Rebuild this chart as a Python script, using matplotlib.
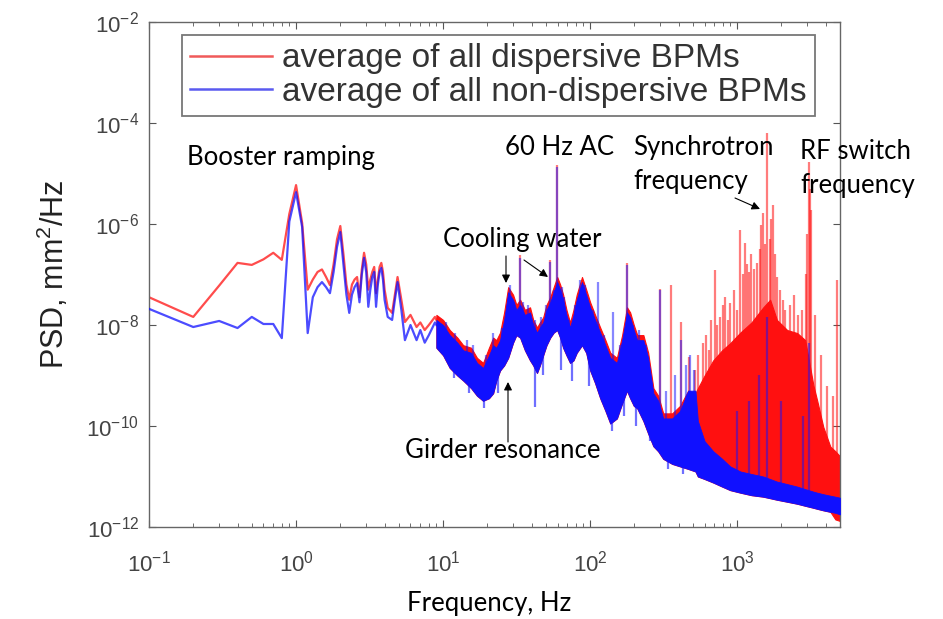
import matplotlib
matplotlib.use("Agg")
import matplotlib.pyplot as plt
import numpy as np

plt.rcParams["font.family"] = ["Liberation Sans", "DejaVu Sans"]
plt.rcParams["mathtext.fontset"] = "custom"
plt.rcParams["mathtext.rm"] = "Liberation Sans"
plt.rcParams["mathtext.it"] = "Liberation Sans:italic"
plt.rcParams["mathtext.bf"] = "Liberation Sans:bold"
plt.rcParams["axes.unicode_minus"] = False

# ---- data (PSD given as log10 values) ----
# low frequency part, FFT bins
lf_freq = [0.1, 0.2, 0.3, 0.4, 0.5, 0.6, 0.7, 0.8, 0.9, 1.0, 1.1, 1.2, 1.3, 1.4, 1.5,
           1.6, 1.7, 1.8, 1.9, 2.0, 2.1, 2.2, 2.3, 2.4, 2.5, 2.6, 2.7, 2.8, 2.9, 3.0,
           3.1, 3.2, 3.3, 3.4, 3.5, 3.6, 3.7, 3.8, 3.9, 4.0, 4.2, 4.5, 4.7, 4.9, 5.2,
           5.5, 6.0, 6.6, 7.0, 7.5, 8.0, 8.8, 9.0]
red_lf = [-7.45, -7.84, -7.22, -6.77, -6.81, -6.70, -6.57, -6.71, -5.80, -5.23, -5.98,
          -7.30, -7.10, -6.95, -6.90, -7.05, -7.21, -6.80, -6.30, -6.04, -6.60, -7.20,
          -7.50, -7.20, -7.10, -7.05, -7.45, -6.90, -6.57, -6.80, -7.30, -7.10, -6.95,
          -6.85, -7.37, -7.10, -6.85, -6.77, -6.95, -7.30, -7.66, -7.76, -7.40, -7.05,
          -7.50, -7.94, -7.80, -8.04, -7.95, -8.10, -8.00, -7.84, -7.90]
blue_lf = [-7.68, -8.04, -7.92, -8.06, -7.84, -7.98, -7.98, -8.26, -5.95, -5.37, -6.06,
           -8.16, -7.45, -7.25, -7.15, -7.25, -7.37, -6.95, -6.45, -6.16, -6.80, -7.40,
           -7.76, -7.40, -7.25, -7.17, -7.55, -7.00, -6.67, -6.95, -7.64, -7.30, -7.05,
           -6.95, -7.64, -7.20, -6.95, -6.87, -7.10, -7.50, -7.84, -7.90, -7.50, -7.15,
           -7.70, -8.30, -8.00, -8.30, -8.10, -8.35, -8.20, -7.95, -8.00]

# dense part: envelopes of the traces
band_freq = [9.0, 10.0, 11.1, 12.5, 13.7, 15.5, 17.0, 18.7, 20.5, 21.9, 23.0, 24.4, 26.0,
             27.7, 29.9, 31.5, 33.4, 36.0, 39.0, 41.0, 43.5, 45.5, 47.9, 50.5, 53.5, 56.5,
             59.7, 62.5, 65.5, 69.0, 73.0, 77.0, 81.0, 88.0, 94.0, 100, 108, 117, 127,
             137, 152, 165, 178, 187, 198, 209, 230, 248, 269, 290, 314, 361, 409, 464,
             520, 540, 600, 687, 790, 896, 1050, 1250, 1504, 1675, 1862, 2188, 2560,
             2900, 3300, 3500, 3850, 4300, 4650, 5000]
blue_hi = [-7.90, -8.00, -8.20, -8.35, -8.50, -8.55, -8.75, -8.85, -8.60, -8.40, -8.45,
           -8.30, -7.90, -7.35, -7.50, -7.70, -7.60, -7.80, -7.75, -8.00, -8.15, -8.05,
           -7.95, -7.70, -7.55, -7.35, -7.15, -7.30, -7.50, -7.80, -8.05, -7.80, -7.50,
           -7.15, -7.40, -7.65, -7.90, -8.15, -8.40, -8.65, -8.75, -8.30, -7.75, -7.85,
           -8.10, -8.30, -8.30, -8.65, -9.35, -9.50, -9.85, -9.85, -9.70, -9.30, -9.30,
           -9.90, -10.30, -10.50, -10.65, -10.80, -10.90, -10.95, -11.00, -11.05, -11.10,
           -11.15, -11.20, -11.25, -11.30, -11.32, -11.35, -11.38, -11.40, -11.42]
blue_lo = [-8.45, -8.60, -8.85, -9.00, -9.10, -9.25, -9.40, -9.50, -9.45, -9.35, -9.10,
           -8.90, -8.80, -8.65, -8.35, -8.20, -8.25, -8.50, -8.70, -8.80, -8.95, -8.80,
           -8.60, -8.40, -8.25, -8.15, -8.10, -8.25, -8.45, -8.60, -8.75, -8.70, -8.55,
           -8.40, -8.55, -8.90, -9.15, -9.45, -9.70, -9.95, -9.85, -9.55, -9.30, -9.45,
           -9.60, -9.65, -9.90, -10.15, -10.40, -10.50, -10.65, -10.75, -10.80, -10.85,
           -10.90, -11.00, -11.05, -11.12, -11.20, -11.27, -11.32, -11.37, -11.40, -11.43,
           -11.46, -11.50, -11.54, -11.58, -11.62, -11.64, -11.67, -11.70, -11.72, -11.75]
red_hi = [-7.80, -7.90, -8.10, -8.25, -8.40, -8.45, -8.65, -8.75, -8.45, -8.25, -8.30,
          -8.15, -7.75, -7.25, -7.40, -7.60, -7.50, -7.70, -7.65, -7.90, -8.05, -7.95,
          -7.85, -7.60, -7.45, -7.25, -7.05, -7.20, -7.40, -7.70, -7.95, -7.70, -7.40,
          -7.05, -7.30, -7.55, -7.80, -8.05, -8.30, -8.55, -8.65, -8.20, -7.65, -7.75,
          -8.00, -8.20, -8.20, -8.55, -9.25, -9.40, -9.75, -9.75, -9.60, -9.30, -9.35,
          -9.25, -9.00, -8.70, -8.50, -8.36, -8.15, -7.95, -7.65, -7.50, -7.90, -8.10,
          -8.16, -8.30, -9.20, -9.50, -10.02, -10.41, -10.50, -10.60]
red_lo = [-8.45, -8.60, -8.85, -9.00, -9.10, -9.25, -9.40, -9.50, -9.45, -9.35, -9.10,
          -8.90, -8.80, -8.65, -8.35, -8.20, -8.25, -8.50, -8.70, -8.80, -8.95, -8.80,
          -8.60, -8.40, -8.25, -8.15, -8.10, -8.25, -8.45, -8.60, -8.75, -8.70, -8.55,
          -8.40, -8.55, -8.90, -9.15, -9.45, -9.70, -9.95, -9.85, -9.55, -9.30, -9.45,
          -9.60, -9.65, -9.90, -10.15, -10.40, -10.50, -10.65, -10.75, -10.80, -10.85,
          -10.90, -11.00, -11.05, -11.12, -11.20, -11.27, -11.32, -11.37, -11.40, -11.43,
          -11.46, -11.50, -11.54, -11.58, -11.62, -11.64, -11.67, -11.70, -11.85, -11.88]

# narrow lines sticking out of the envelopes
red_spike_freq = [33.4, 53.5, 59.7, 178, 299, 356, 416, 472, 518, 545, 587, 610, 646, 660,
                  708, 730, 766, 800, 828, 860, 896, 950, 990, 1047, 1090, 1132, 1160, 1200,
                  1250, 1300, 1368, 1420, 1455, 1504, 1540, 1600, 1660, 1700, 1757, 1800,
                  1862, 1950, 2050, 2125, 2300, 2450, 2600, 2750, 2950, 3000, 3090, 3150,
                  3200, 3400, 3700, 4100, 4500, 4780]
red_spike_tip = [-6.62, -6.72, -4.83, -6.78, -7.28, -7.21, -7.94, -8.63, -8.90, -8.60, -8.36,
                 -8.20, -8.50, -7.90, -6.91, -8.00, -7.84, -7.60, -7.44, -7.90, -7.57, -7.30,
                 -7.70, -6.12, -7.00, -6.38, -6.80, -6.96, -6.60, -6.90, -6.77, -6.50, -6.02,
                 -5.78, -6.40, -4.20, -6.30, -5.90, -5.62, -6.60, -7.05, -7.30, -7.50, -7.70,
                 -7.60, -7.40, -7.80, -7.70, -7.00, -6.20, -4.77, -5.30, -5.72, -7.80, -8.60,
                 -9.20, -9.40, -7.10]
blue_spike_freq = [10.5, 12.0, 14.5, 16.0, 19.5, 22.0, 25.0, 28.5, 30.5, 33.4, 35.0, 38.0,
                   42.0, 46.0, 50.0, 53.5, 57.0, 59.7, 64.0, 66.0, 72.0, 79.0, 85.0, 92.0,
                   104, 113, 125, 144, 160, 178, 195, 215, 240, 299, 330, 380, 416, 450,
                   480, 505, 1000, 1200, 1400, 1600, 2000, 2800, 3100]
blue_spike_tip = [-7.95, -8.15, -8.30, -8.40, -8.60, -8.15, -8.05, -7.20, -7.55, -6.67, -7.55,
                  -7.60, -7.90, -7.85, -7.60, -6.75, -7.30, -4.87, -7.25, -7.45, -7.90,
                  -7.60, -7.10, -7.20, -7.70, -7.15, -8.20, -7.74, -8.40, -6.81, -8.00,
                  -8.10, -8.40, -7.31, -9.30, -9.00, -8.30, -8.80, -8.60, -8.90, -9.70,
                  -9.50, -9.00, -7.84, -9.50, -9.80, -8.36]
blue_dip_freq = [11.8, 15.0, 19.0, 23.5, 42.3, 48.0, 63.0, 75.0, 98.0, 140, 170, 205, 255,
                 340, 430]
blue_dip_low = [-9.05, -9.35, -9.65, -9.35, -9.62, -9.00, -8.90, -9.10, -9.20, -10.10, -9.80,
                -10.00, -10.30, -10.85, -10.95]

W, H = 943, 619
fig = plt.figure(figsize=(W / 100, H / 100), dpi=100)
ax = fig.add_axes([149 / W, 1 - 527 / H, (840 - 149) / W, (527 - 22) / H])

RED = "#ff1010"
BLUE = "#1010ff"
p = lambda v: 10 ** np.asarray(v, dtype=float)
lb = np.log10(band_freq)


def base(freqs, env, drop):
    # foot of a spike, tucked inside the band it rises from
    return p(np.interp(np.log10(freqs), lb, env) - drop)


# red trace (dispersive)
ax.fill_between(band_freq, p(red_lo), p(red_hi), color=RED, lw=0.8, edgecolor=RED, zorder=2)
ax.vlines(red_spike_freq, base(red_spike_freq, red_hi, 0.15), p(red_spike_tip), color=RED,
          alpha=0.55, lw=1.6, zorder=2)
ax.plot(lf_freq, p(red_lf), color=RED, alpha=0.75, lw=1.6, zorder=2)

# blue trace (non-dispersive)
ax.fill_between(band_freq, p(blue_lo), p(blue_hi), color=BLUE, lw=0.6, edgecolor=BLUE, zorder=3)
ax.vlines(blue_spike_freq, base(blue_spike_freq, blue_hi, 0.15), p(blue_spike_tip),
          color=BLUE, alpha=0.5, lw=1.6, zorder=3)
ax.vlines(blue_dip_freq, p(blue_dip_low), base(blue_dip_freq, blue_lo, -0.15), color=BLUE,
          alpha=0.6, lw=1.6, zorder=3)
ax.plot(lf_freq, p(blue_lf), color=BLUE, alpha=0.75, lw=1.6, zorder=3)

# legend proxies
l1, = ax.plot([], [], color="#f05a5a", lw=1.8, label="average of all dispersive BPMs")
l2, = ax.plot([], [], color="#5a5af0", lw=1.8, label="average of all non-dispersive BPMs")

ax.set_xscale("log")
ax.set_yscale("log")
ax.set_xlim(0.1, 5000)
ax.set_ylim(1e-12, 1e-2)
ax.set_yticks([1e-12, 1e-10, 1e-8, 1e-6, 1e-4, 1e-2])
ax.yaxis.set_minor_locator(matplotlib.ticker.NullLocator())
ax.tick_params(which="both", direction="in", top=True, right=True, colors="#555555",
               labelcolor="#444444", labelsize=16)
ax.tick_params(which="major", length=5)
ax.tick_params(which="minor", length=3)
ax.tick_params(axis="x", pad=17)
ax.tick_params(axis="y", pad=7)
for s in ax.spines.values():
    s.set_color("#666666")
    s.set_linewidth(1.0)

ax.set_ylabel("PSD, mm$^2$/Hz", fontsize=22, color="#222222", labelpad=11)

leg = ax.legend(handles=[l1, l2], loc="upper left", bbox_to_anchor=(33 / 691, 0.974),
                prop={"size": 24}, frameon=True, fancybox=False, edgecolor="#555555",
                handlelength=2.45, borderpad=0.25, labelspacing=0.08, handletextpad=0.3,
                borderaxespad=0)
leg.get_frame().set_linewidth(1.3)
for t in leg.get_texts():
    t.set_color("#333333")


# annotations, positions in reference pixels (top-left origin)
def tx(x, y, s):
    fig.text(x / W, 1 - y / H, s, fontsize=18.5, family="Lato", va="center", ha="left",
             color="black")


tx(187, 158, "Booster ramping")
tx(505, 147, "60 Hz AC")
tx(633, 147, "Synchrotron")
tx(633, 181, "frequency")
tx(800, 152, "RF switch")
tx(800, 186, "frequency")
tx(443, 240, "Cooling water")
tx(405, 450, "Girder resonance")
fig.text(489 / W, 1 - 604 / H, "Frequency, Hz", fontsize=18.5, family="Lato", ha="center",
         va="center")


def arrow(x0, y0, x1, y1, lc="black"):
    fig.add_artist(matplotlib.patches.FancyArrowPatch(
        (x0 / W, 1 - y0 / H), (x1 / W, 1 - y1 / H), transform=fig.transFigure,
        arrowstyle="-|>", mutation_scale=12, color=lc, lw=0.8, shrinkA=0, shrinkB=0,
        zorder=5))


arrow(506, 256, 506, 283)
arrow(524, 260, 548, 277)
arrow(508, 442, 508, 382)
arrow(735, 198, 760, 209)

fig.savefig("out.png", dpi=100)
